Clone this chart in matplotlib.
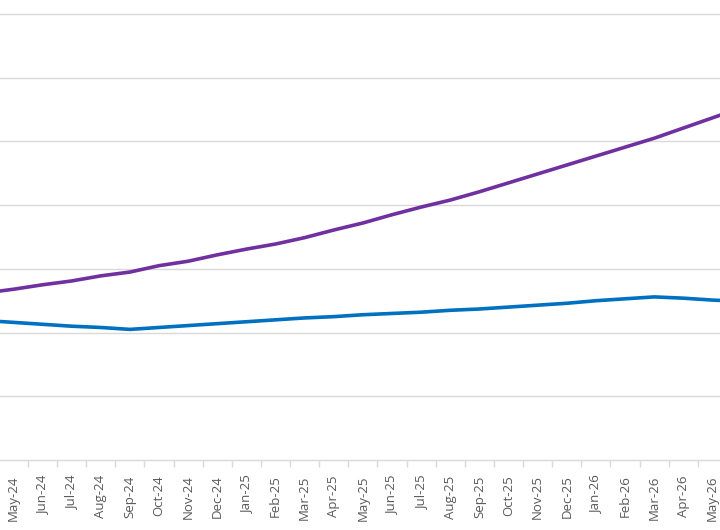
import matplotlib
matplotlib.use("Agg")
import matplotlib.pyplot as plt
import numpy as np

# month labels on the category axis (Apr-24 and Jun-26 sit just outside the crop)
months = ["Apr-24", "May-24", "Jun-24", "Jul-24", "Aug-24", "Sep-24", "Oct-24",
          "Nov-24", "Dec-24", "Jan-25", "Feb-25", "Mar-25", "Apr-25", "May-25",
          "Jun-25", "Jul-25", "Aug-25", "Sep-25", "Oct-25", "Nov-25", "Dec-25",
          "Jan-26", "Feb-26", "Mar-26", "Apr-26", "May-26", "Jun-26"]

# purple series (grid step = 1)
purple = [2.62, 2.68, 2.75, 2.81, 2.89, 2.95, 3.05, 3.12, 3.22, 3.31, 3.39,
          3.49, 3.61, 3.72, 3.85, 3.97, 4.08, 4.21, 4.35, 4.49, 4.63, 4.77,
          4.91, 5.05, 5.21, 5.37, 5.53]

# blue series
blue = [2.19, 2.16, 2.13, 2.10, 2.08, 2.05, 2.08, 2.11, 2.14, 2.17, 2.20,
        2.23, 2.25, 2.28, 2.30, 2.32, 2.35, 2.37, 2.40, 2.43, 2.46, 2.50,
        2.53, 2.56, 2.54, 2.51, 2.49]

fig = plt.figure(figsize=(7.2, 5.3), dpi=100)
ax = fig.add_axes([0, 1 - 460 / 530, 1, 460 / 530])

x = np.arange(len(months)) - 1
ax.plot(x, purple, color="#7030A0", lw=2.6, solid_capstyle="round")
ax.plot(x, blue, color="#0070C0", lw=2.6, solid_capstyle="round")

ax.set_yticks(np.arange(1, 8))
ax.yaxis.grid(True, color="#D9D9D9", lw=1)
ax.set_axisbelow(True)
ax.tick_params(axis="y", left=False, labelleft=False)

ax.set_xticks(x)
ax.set_xticklabels(months, rotation=90, fontsize=9.5, color="#595959",
                   family="Open Sans")
ax.set_xticks(x[:-1] + 0.5, minor=True)
ax.tick_params(axis="x", which="major", length=0, pad=11)
ax.tick_params(axis="x", which="minor", length=5, color="#D9D9D9", width=1)

# limits after the ticks, so set_xticks does not widen the view
ax.set_xlim(-0.46, 24.26)
ax.set_ylim(0, 7.22)

for s in ["top", "left", "right"]:
    ax.spines[s].set_visible(False)
ax.spines["bottom"].set_color("#D9D9D9")
ax.spines["bottom"].set_linewidth(1)

fig.savefig("out.png", dpi=100)
